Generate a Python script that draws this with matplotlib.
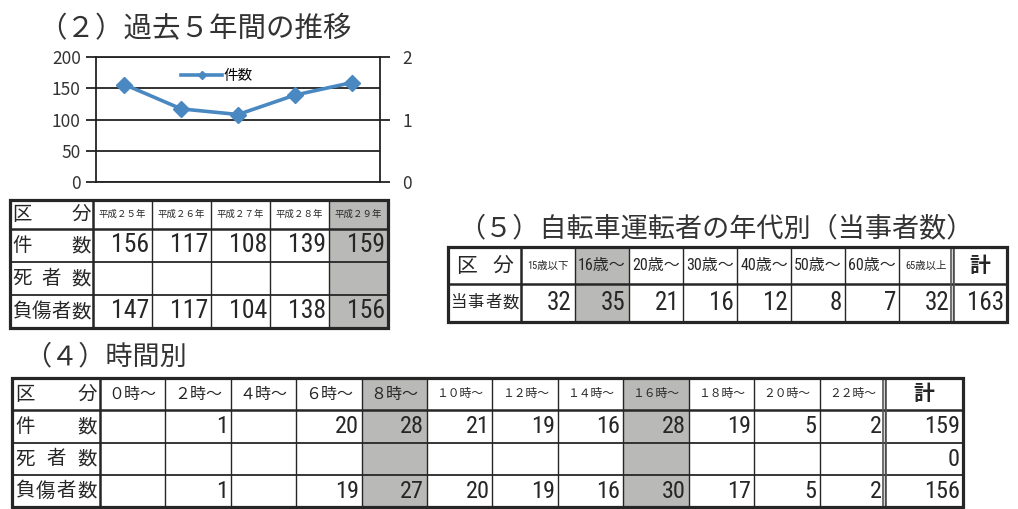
import matplotlib.pyplot as plt
import numpy as np
from matplotlib.patches import Rectangle

plt.rcParams['font.family'] = ['Noto Sans CJK JP', 'DejaVu Sans']

# (2) 過去５年間の推移
years = ['平成２５年', '平成２６年', '平成２７年', '平成２８年', '平成２９年']
year_cases = [156, 117, 108, 139, 159]
year_deaths = [None, None, None, None, None]
year_injured = [147, 117, 104, 138, 156]
year_marked = ['平成２９年']

# (5) 自転車運転者の年代別（当事者数）
age_groups = ['15歳以下', '16歳～', '20歳～', '30歳～', '40歳～', '50歳～', '60歳～', '65歳以上']
age_counts = [32, 35, 21, 16, 12, 8, 7, 32]
age_marked = ['16歳～']

# (4) 時間別
hours = ['０時～', '２時～', '４時～', '６時～', '８時～', '１０時～',
         '１２時～', '１４時～', '１６時～', '１８時～', '２０時～', '２２時～']
hour_cases = [None, 1, None, 20, 28, 21, 19, 16, 28, 19, 5, 2]
hour_deaths = [None] * 12
hour_injured = [None, 1, None, 19, 27, 20, 19, 16, 30, 17, 5, 2]
hour_marked = ['８時～', '１６時～']

W, H = 1018, 509
INK = '#262626'
SHADE = '#b9b9b7'
BLUE = '#4a88c2'
NUM_FONT = ['Roboto Condensed', 'DejaVu Sans Condensed', 'Liberation Sans Narrow',
            'Liberation Sans']


def total(vals):
    return sum(v for v in vals if v is not None)


def spread(ax, text, x0, x1, y, size):
    # justify the characters across the cell, like 区　　分
    w = size / 0.72
    n = len(text)
    for i, ch in enumerate(text):
        cx = (x0 + x1) / 2 if n == 1 else x0 + w / 2 + (x1 - x0 - w) * i / (n - 1)
        ax.text(cx, y, ch, ha='center', va='center', fontsize=size, color=INK)


def number(ax, v, xr, y, size=17):
    if v is None:
        return
    ax.text(xr - 3, y, str(v), ha='right', va='center', family=NUM_FONT,
            fontstretch='condensed', fontsize=size, color=INK)


def grid(ax, xs, ys, shaded, double_at=None):
    for c in shaded:
        ax.add_patch(Rectangle((xs[c], ys[0]), xs[c + 1] - xs[c], ys[-1] - ys[0],
                               facecolor=SHADE, edgecolor='none', zorder=1))
    ax.vlines(xs[2:-1], ys[0], ys[-1], color=INK, lw=1.0, zorder=2)
    ax.hlines(ys[2:-1], xs[0], xs[-1], color=INK, lw=1.3, zorder=2)
    ax.vlines(xs[1], ys[0], ys[-1], color=INK, lw=1.8, zorder=2)
    ax.hlines(ys[1], xs[0], xs[-1], color=INK, lw=1.8, zorder=2)
    if double_at is not None:
        ax.vlines([xs[double_at] - 2, xs[double_at] + 1], ys[0], ys[-1],
                  color='#555555', lw=1.2, zorder=2)
    ax.add_patch(Rectangle((xs[0], ys[0]), xs[-1] - xs[0], ys[-1] - ys[0],
                           facecolor='none', edgecolor=INK, lw=2.3, zorder=3))


fig = plt.figure(figsize=(W / 100, H / 100), dpi=100)
fig.patch.set_facecolor('white')
bg = fig.add_axes([0, 0, 1, 1])
bg.set_xlim(0, W)
bg.set_ylim(H, 0)
bg.axis('off')

TITLE = dict(fontsize=19.5, color='#333333', va='center', ha='left')

# ---- (2) line chart ----
bg.text(38, 29, '（２）過去５年間の推移', **{**TITLE, 'fontsize': 20.5})

cax = fig.add_axes([96 / W, 1 - 182 / H, (380 - 96) / W, 125 / H])
cax.set_facecolor('none')
xpos = np.arange(len(years))
cax.plot(xpos, year_cases, color=BLUE, lw=2.6, marker='D', ms=8, label='件数', zorder=3)
cax.set_xlim(-0.5, len(years) - 0.5)
cax.set_ylim(0, 200)
cax.set_yticks(range(0, 201, 50))
cax.set_xticks([])
cax.grid(axis='y', color='#222222', lw=1.3)
cax.tick_params(axis='y', length=7, width=1.3, color='#222222', labelsize=12.5,
                labelcolor='#333333', pad=4)
for s in cax.spines.values():
    s.set_color('#222222')
    s.set_linewidth(1.3)
rax = cax.twinx()
rax.set_ylim(0, 2)
rax.set_yticks([0, 1, 2])
rax.tick_params(axis='y', length=7, width=1.3, color='#222222', labelsize=12.5,
                labelcolor='#333333', pad=9)
for s in rax.spines.values():
    s.set_visible(False)
cax.legend(loc='center left', bbox_to_anchor=(0.30, 0.85), frameon=False,
           fontsize=10.5, handlelength=2.8, handletextpad=0.1, borderpad=0,
           borderaxespad=0, markerscale=0.55)

# ---- 過去５年間 table ----
xs = [10] + list(np.linspace(93, 388, len(years) + 1))
ys = [200, 229, 262, 295, 328]
grid(bg, xs, ys, [1 + years.index(y) for y in year_marked])
spread(bg, '区分', xs[0] + 2, xs[1] - 2, (ys[0] + ys[1]) / 2, 14)
for i, y in enumerate(years):
    bg.text((xs[i + 1] + xs[i + 2]) / 2, (ys[0] + ys[1]) / 2, y, ha='center',
            va='center', fontsize=6.8, color=INK)
for r, (name, vals) in enumerate([('件数', year_cases), ('死者数', year_deaths),
                                  ('負傷者数', year_injured)]):
    yc = (ys[r + 1] + ys[r + 2]) / 2
    spread(bg, name, xs[0] + 2, xs[1] - 2, yc, 14)
    for i, v in enumerate(vals):
        number(bg, v, xs[i + 2], yc, 18.5)

# ---- (5) 年代別 table ----
bg.text(458, 229, '（５）自転車運転者の年代別（当事者数）', **TITLE)
xa = [448] + list(np.linspace(521, 953, len(age_groups) + 1)) + [1007]
ya = [247, 284, 322]
grid(bg, xa, ya, [1 + age_groups.index(a) for a in age_marked], double_at=len(age_groups) + 1)
spread(bg, '区分', xa[0] + 8, xa[1] - 8, (ya[0] + ya[1]) / 2, 15)
for i, a in enumerate(age_groups):
    small = a.endswith(('以下', '以上'))
    bg.text((xa[i + 1] + xa[i + 2]) / 2, (ya[0] + ya[1]) / 2, a, ha='center', va='center',
            fontsize=7.5 if small else 11.5, color=INK, fontstretch='condensed',
            family=NUM_FONT[:-1] + ['Noto Sans CJK JP'])
bg.text((xa[-2] + xa[-1]) / 2, (ya[0] + ya[1]) / 2, '計', ha='center', va='center',
        fontsize=15, color=INK, weight='bold')
yc = (ya[1] + ya[2]) / 2
spread(bg, '当事者数', xa[0] + 2, xa[1] - 2, yc, 11.8)
for i, v in enumerate(age_counts):
    number(bg, v, xa[i + 2], yc, 18)
number(bg, total(age_counts), xa[-1], yc, 18)

# ---- (4) 時間別 table ----
bg.text(24, 357, '（４）時間別', **TITLE)
xt = [12] + list(np.linspace(100, 885, len(hours) + 1)) + [963]
yt = [378, 410, 443, 475, 507]
grid(bg, xt, yt, [1 + hours.index(h) for h in hour_marked], double_at=len(hours) + 1)
spread(bg, '区分', xt[0] + 3, xt[1] - 3, (yt[0] + yt[1]) / 2, 14)
for i, h in enumerate(hours):
    bg.text((xt[i + 1] + xt[i + 2]) / 2, (yt[0] + yt[1]) / 2, h, ha='center', va='center',
            fontsize=11.5 if len(h) == 3 else 8.5, color=INK)
bg.text((xt[-2] + xt[-1]) / 2, (yt[0] + yt[1]) / 2, '計', ha='center', va='center',
        fontsize=15, color=INK, weight='bold')
for r, (name, vals) in enumerate([('件数', hour_cases), ('死者数', hour_deaths),
                                  ('負傷者数', hour_injured)]):
    yc = (yt[r + 1] + yt[r + 2]) / 2
    spread(bg, name, xt[0] + 3, xt[1] - 3, yc, 14)
    for i, v in enumerate(vals):
        number(bg, v, xt[i + 2], yc, 17.5)
    number(bg, total(vals), xt[-1], yc, 17.5)

fig.savefig('out.png', dpi=100)
